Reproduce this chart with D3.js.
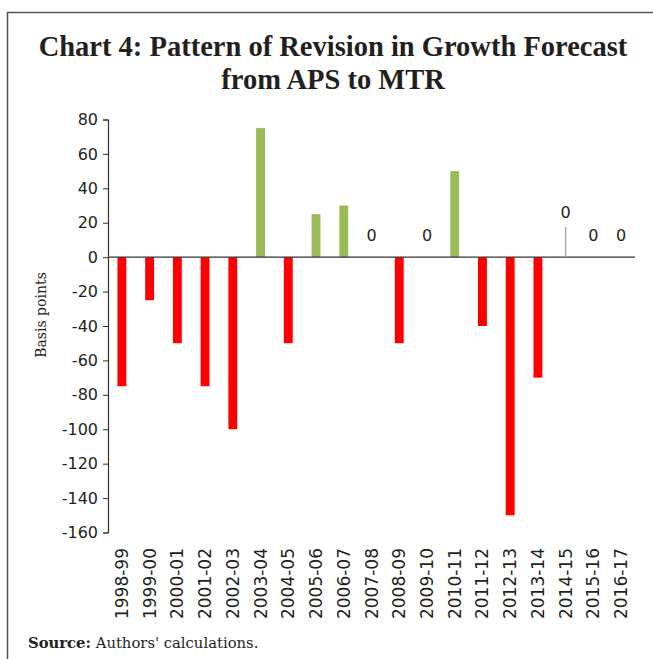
<!DOCTYPE html>
<html>
<head>
<meta charset="utf-8">
<script src="https://cdnjs.cloudflare.com/ajax/libs/d3/7.8.5/d3.min.js"></script>
<style>
  body { margin: 0; background: #fff; }
  svg text { fill: #231f20; }
</style>
</head>
<body>
<div id="chart"></div>
<script>
// chart data
var years = ["1998-99","1999-00","2000-01","2001-02","2002-03","2003-04","2004-05","2005-06","2006-07",
             "2007-08","2008-09","2009-10","2010-11","2011-12","2012-13","2013-14","2014-15","2015-16","2016-17"]
var revision = [-75, -25, -50, -75, -100, 75, -50, 25, 30, 0, -50, 0, 50, -40, -150, -70, 0, 0, 0]
var yTicks = [80, 60, 40, 20, 0, -20, -40, -60, -80, -100, -120, -140, -160]

var width = 653, height = 659
var sans = "'DejaVu Sans', Verdana, sans-serif"
var serif = "'DejaVu Serif', serif"

var svg = d3.select("#chart")
            .append("svg")
            .attr("width", width)
            .attr("height", height)

// frame (top + left edge only)
svg.append("path")
   .attr("d", "M7.5," + height + "V12.5H" + width)
   .attr("fill", "none")
   .attr("stroke", "#555")
   .attr("stroke-width", 1.5)

// title
var title = svg.append("text")
               .attr("text-anchor", "middle")
               .style("font-family", "'Liberation Serif', serif")
               .style("font-weight", "bold")
               .style("font-size", "28.5px")
title.append("tspan").attr("x", 333).attr("y", 56).text("Chart 4: Pattern of Revision in Growth Forecast")
title.append("tspan").attr("x", 333).attr("y", 89).text("from APS to MTR")

var x = d3.scaleBand()
          .domain(years)
          .range([108, 635])
          .paddingInner(0.68)
          .paddingOuter(0.34)

var y = d3.scaleLinear()
          .domain([-160, 80])
          .range([532.5, 119.5])

// y axis
var yAxis = svg.append("g")
               .attr("transform", "translate(108,0)")
               .call(d3.axisLeft(y).tickValues(yTicks).tickSize(5).tickPadding(5).tickFormat(function(d) { return String(d) }))
yAxis.select(".domain").attr("stroke", "#333").attr("stroke-width", 1.2)
yAxis.selectAll(".tick line").attr("stroke", "#333")
yAxis.selectAll("text")
     .style("font-family", sans)
     .style("font-size", "16px")
     .attr("fill", "#231f20")

svg.append("text")
   .attr("transform", "translate(46,315) rotate(-90)")
   .attr("text-anchor", "middle")
   .style("font-family", serif)
   .style("font-size", "14px")
   .text("Basis points")

// bars
svg.append("g")
   .selectAll("rect")
   .data(revision)
   .enter().append("rect")
   .attr("x", function(d, i) { return x(years[i]) })
   .attr("width", x.bandwidth())
   .attr("y", function(d) { return y(Math.max(0, d)) })
   .attr("height", function(d) { return Math.abs(y(d) - y(0)) })
   .attr("fill", function(d) { return d < 0 ? "#ff0000" : "#9bbb59" })

// zero line
svg.append("line")
   .attr("x1", 108).attr("x2", 635)
   .attr("y1", y(0)).attr("y2", y(0))
   .attr("stroke", "#333")
   .attr("stroke-width", 1.2)

// labels for zero values, 2014-15 one is lifted with a leader line
var zeroIdx = revision.map(function(d, i) { return d === 0 ? i : -1 }).filter(function(i) { return i >= 0 })
var lifted = "2014-15"
zeroIdx.forEach(function(i) {
    var cx = x(years[i]) + x.bandwidth() / 2
    var up = years[i] === lifted
    if (up) {
        svg.append("line")
           .attr("x1", cx).attr("x2", cx)
           .attr("y1", y(0)).attr("y2", y(0) - 30)
           .attr("stroke", "#aaa")
           .attr("stroke-width", 1.5)
    }
    svg.append("text")
       .attr("x", cx)
       .attr("y", up ? 218 : 241)
       .attr("text-anchor", "middle")
       .style("font-family", sans)
       .style("font-size", "16px")
       .text(0)
})

// category labels along the bottom
svg.append("g")
   .selectAll("text")
   .data(years)
   .enter().append("text")
   .attr("transform", function(d) { return "translate(" + (x(d) + x.bandwidth() / 2 + 6) + ",548) rotate(-90)" })
   .attr("text-anchor", "end")
   .style("font-family", sans)
   .style("font-size", "17px")
   .text(function(d) { return d })

// source note
var src = svg.append("text")
             .attr("x", 28).attr("y", 648)
             .style("font-family", serif)
             .style("font-size", "14.8px")
src.append("tspan").style("font-weight", "bold").text("Source:")
src.append("tspan").text(" Authors' calculations.")
</script>
</body>
</html>
